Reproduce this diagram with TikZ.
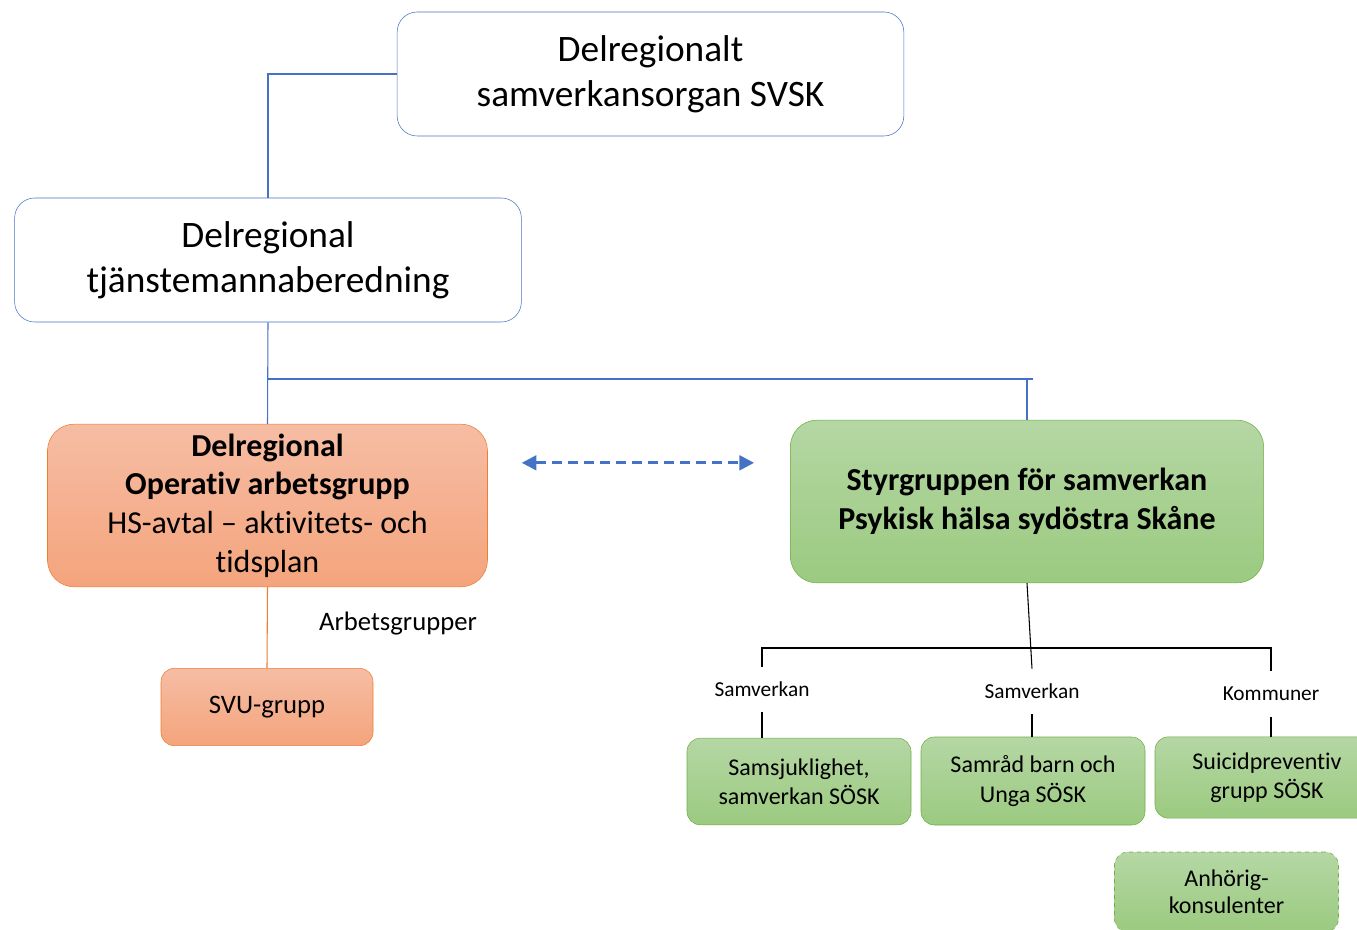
\documentclass[tikz,border=0pt]{standalone}
\usepackage{fontspec}
\setmainfont{Carlito}[Ligatures=NoCommon]
\usetikzlibrary{arrows.meta,calc,positioning}
\definecolor{lineblue}{HTML}{4472C4}
\definecolor{orangeline}{HTML}{ED7D31}
\definecolor{orangetop}{HTML}{F6BDA4}
\definecolor{orangebot}{HTML}{F4A47C}
\definecolor{greenline}{HTML}{70AD47}
\definecolor{greentop}{HTML}{B5D7A4}
\definecolor{greenbot}{HTML}{9BCA80}
\tikzset{
    font=\fontsize{20}{24}\selectfont,
    headbox/.style ={rounded corners=15pt, draw=lineblue, fill=white, align=center,
        font=\fontsize{28}{34}\selectfont, minimum width=380pt, minimum height=93pt},
    orangebox/.style ={rounded corners=20pt, draw=orangeline, top color=orangetop,
        bottom color=orangebot, align=center},
    greenbox/.style ={rounded corners=20pt, draw=greenline, top color=greentop,
        bottom color=greenbot, align=center},
    smallbox/.style ={greenbox, rounded corners=10pt, minimum width=168pt,
        font=\fontsize{18}{22}\selectfont},
    tag/.style = {inner sep=0pt, minimum height=34pt, font=\fontsize{16}{19}\selectfont},
    twoway/.style={{Triangle[length=11pt,width=11pt]}-{Triangle[length=11pt,width=11pt]},
        dashed, dash pattern=on 7.5pt off 4.5pt, line width=2.2pt, draw=lineblue}
}
\begin{document}
\begin{tikzpicture}[x=0.75pt,y=-0.75pt]
    \useasboundingbox (0,0) rectangle (1357,930);

    \node[headbox] (svsk) at (650.5, 74) {Delregionalt\\samverkansorgan SVSK};
    \node[headbox] (tjm) at (268, 260) {Delregional\\tjänstemannaberedning};
    \node[orangebox, minimum width=330pt, minimum height=122pt,
        font=\fontsize{24}{29}\selectfont] (opgrp) at (267.5, 505.5)
        {\textbf{Delregional}\\\textbf{Operativ arbetsgrupp}\\HS-avtal -- aktivitets- och\\tidsplan};
    \node[greenbox, minimum width=355pt, minimum height=122pt,
        font=\bfseries\fontsize{24}{29}\selectfont] (styr) at (1027, 501.5)
        {Styrgruppen för samverkan\\Psykisk hälsa sydöstra Skåne};
    \node[orangebox, rounded corners=10pt, minimum width=159pt, minimum height=58pt] (svu)
        at (267, 707) {SVU-grupp};
    \node (arb) at (398, 624) {Arbetsgrupper};

    \node[smallbox, minimum height=65pt] (samsj) at (799, 781.5) {Samsjuklighet,\\samverkan SÖSK};
    \node[smallbox, minimum height=66pt] (samrad) at (1033, 781) {Samråd barn och\\Unga SÖSK};
    \node[smallbox, minimum height=61pt] (suicid) at (1267, 777.5) {Suicidpreventiv\\grupp SÖSK};
    \node[smallbox, dashed, minimum height=60pt, font=\fontsize{18}{20.5}\selectfont] (anh)
        at (1226.5, 892) {Anhörig-\\konsulenter};

    \node[tag] (lab1) at (762, 689.5) {Samverkan};
    \node[tag] (lab2) at (1032, 691.5) {Samverkan};
    \node[tag] (lab3) at (1271, 694) {Kommuner};

    % blue connectors
    \draw[lineblue, line width=1.8pt] (svsk.west) -| (tjm.north);
    \coordinate (bus) at (268, 379);
    \draw[lineblue, line width=0.8pt] (tjm.south) -- (opgrp.north);
    \draw[lineblue, line width=0.8pt] (bus) -- (bus -| styr.north) -- ++(6,0);
    \draw[lineblue, line width=0.8pt] (bus -| styr.north) -- (styr.north);
    \draw[twoway, shorten <=25.5pt, shorten >=27pt]
        ([yshift=32pt]opgrp.east) -- ([yshift=32pt]opgrp.east -| styr.west);

    % orange connector
    \draw[orangeline, line width=0.8pt] (opgrp.south) -- (svu.north);

    % black tree
    \coordinate (fork) at (1030, 648);
    \draw[line width=0.8pt] (styr.south) -- (lab2.north);
    \draw[line width=0.8pt] (lab1.north) -- (lab1.north |- fork) -- (lab3.north |- fork) -- (lab3.north);
    \draw[line width=0.8pt] (lab1.south) -- (lab1.south |- samsj.north);
    \draw[line width=0.8pt] (lab2.south) -- (lab2.south |- samrad.north);
    \draw[line width=0.8pt] (lab3.south) -- (lab3.south |- suicid.north);
\end{tikzpicture}
\end{document}
